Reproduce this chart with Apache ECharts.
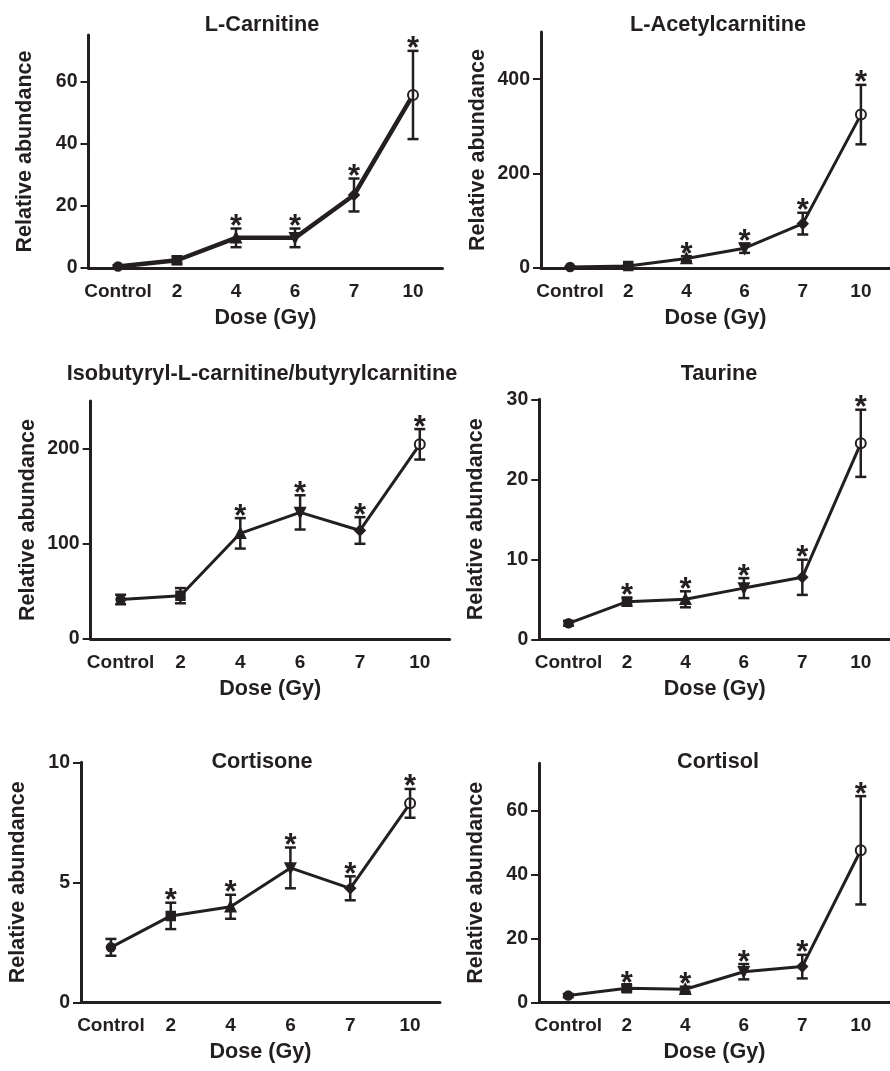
<!DOCTYPE html>
<html><head><meta charset="utf-8">
<script src="https://cdn.jsdelivr.net/npm/echarts@6/dist/echarts.min.js"></script>
<style>html,body{margin:0;padding:0;background:#fff}#c{width:890px;height:1071px}</style>
</head><body><div id="c"></div>
<script>
// ---------- data ----------
const categories = ['Control', '2', '4', '6', '7', '10'];
const xName = 'Dose (Gy)';
const yName = 'Relative abundance';

const titles = ['L-Carnitine', 'L-Acetylcarnitine', 'Isobutyryl-L-carnitine/butyrylcarnitine', 'Taurine', 'Cortisone', 'Cortisol'];

const carnitineMean = [0.5, 2.5, 9.7, 9.7, 23.5, 55.7];
const carnitineErr  = [0.4, 1.2, 3.0, 3.0, 5.3, 14.2];
const carnitineSig  = [0, 0, 1, 1, 1, 1];
const carnitineTicks = [0, 20, 40, 60];
const carnitineMax = 75;

const acetylMean = [2, 4, 20, 42, 94, 325];
const acetylErr  = [1, 2, 5, 10, 23, 63];
const acetylSig  = [0, 0, 1, 1, 1, 1];
const acetylTicks = [0, 200, 400];
const acetylMax = 500;

const isobutyrylMean = [41.5, 45.5, 111, 133, 114, 204.5];
const isobutyrylErr  = [5, 8, 16, 18, 14, 16];
const isobutyrylSig  = [0, 0, 1, 1, 1, 1];
const isobutyrylTicks = [0, 100, 200];
const isobutyrylMax = 250;

const taurineMean = [2.0, 4.7, 5.0, 6.4, 7.75, 24.5];
const taurineErr  = [0.3, 0.5, 1.0, 1.25, 2.2, 4.2];
const taurineSig  = [0, 1, 1, 1, 1, 1];
const taurineTicks = [0, 10, 20, 30];
const taurineMax = 30;

const cortisoneMean = [2.29, 3.6, 3.98, 5.6, 4.75, 8.29];
const cortisoneErr  = [0.35, 0.55, 0.5, 0.85, 0.5, 0.6];
const cortisoneSig  = [0, 1, 1, 1, 1, 1];
const cortisoneTicks = [0, 5, 10];
const cortisoneMax = 10;

const cortisolMean = [2.1, 4.4, 4.1, 9.6, 11.2, 47.7];
const cortisolErr  = [0.5, 1.0, 0.8, 2.4, 3.7, 17];
const cortisolSig  = [0, 1, 1, 1, 1, 1];
const cortisolTicks = [0, 20, 40, 60];
const cortisolMax = 75;

// ---------- layout ----------
const panels = [
  {title: titles[0], mean: carnitineMean, err: carnitineErr, sig: carnitineSig, ticks: carnitineTicks, max: carnitineMax},
  {title: titles[1], mean: acetylMean, err: acetylErr, sig: acetylSig, ticks: acetylTicks, max: acetylMax},
  {title: titles[2], mean: isobutyrylMean, err: isobutyrylErr, sig: isobutyrylSig, ticks: isobutyrylTicks, max: isobutyrylMax},
  {title: titles[3], mean: taurineMean, err: taurineErr, sig: taurineSig, ticks: taurineTicks, max: taurineMax},
  {title: titles[4], mean: cortisoneMean, err: cortisoneErr, sig: cortisoneSig, ticks: cortisoneTicks, max: cortisoneMax},
  {title: titles[5], mean: cortisolMean, err: cortisolErr, sig: cortisolSig, ticks: cortisolTicks, max: cortisolMax}
];
const layout = [
  {left: 88.5, top: 35,    width: 354, height: 233, tx: 262, ty: 14, lw: 4.5},
  {left: 541,  top: 32,    width: 358, height: 236, tx: 718, ty: 14, lw: 3},
  {left: 90.7, top: 401,   width: 359, height: 238, tx: 262, ty: 363, lw: 3},
  {left: 539.3,top: 399.3, width: 360, height: 240, tx: 719, ty: 363, lw: 3},
  {left: 81,   top: 762.3, width: 359, height: 240, tx: 262, ty: 751, lw: 3},
  {left: 539,  top: 763.3, width: 360, height: 239, tx: 718, ty: 751, lw: 3}
];

const INK = '#231f20';
const FONT = '"Liberation Sans", Arial, Helvetica, sans-serif';
const markerSymbols = ['circle', 'rect', 'triangle', 'triangle', 'diamond', 'emptyCircle'];
const markerRotate = [0, 0, 0, 180, 0, 0];
const markerSize = [8, 8, 9, 9, 9, 10];

const option = {
  animation: false,
  backgroundColor: '#fff',
  title: [], grid: [], xAxis: [], yAxis: [], series: []
};

panels.forEach((p, k) => {
  const L = layout[k];
  option.title.push({
    text: p.title, left: L.tx, top: L.ty, textAlign: 'center', padding: 0,
    textStyle: {fontFamily: FONT, fontWeight: 'bold', fontSize: 21.7, color: INK}
  });
  option.grid.push({left: L.left, top: L.top, width: L.width, height: L.height, containLabel: false});
  option.xAxis.push({
    type: 'category', gridIndex: k, data: categories, boundaryGap: true,
    name: xName, nameLocation: 'middle', nameGap: 39,
    nameTextStyle: {fontFamily: FONT, fontWeight: 'bold', fontSize: 21.6, color: INK},
    axisLine: {lineStyle: {color: INK, width: 3}},
    axisTick: {alignWithLabel: true, length: 6, lineStyle: {color: INK, width: 3}},
    axisLabel: {fontFamily: FONT, fontWeight: 'bold', fontSize: 19, color: INK, margin: 14, interval: 0},
    splitLine: {show: false}
  });
  option.yAxis.push({
    type: 'value', gridIndex: k, min: 0, max: p.max,
    name: yName, nameLocation: 'middle', nameGap: 52,
    nameTextStyle: {fontFamily: FONT, fontWeight: 'bold', fontSize: 21.5, color: INK},
    axisLine: {show: true, onZero: false, lineStyle: {color: INK, width: 3}},
    axisTick: {show: true, length: 8, customValues: p.ticks, lineStyle: {color: INK, width: 2}},
    axisLabel: {fontFamily: FONT, fontWeight: 'bold', fontSize: 19.5, color: INK, margin: 11, customValues: p.ticks},
    splitLine: {show: false}
  });
  option.series.push({
    type: 'line', xAxisIndex: k, yAxisIndex: k,
    data: p.mean.map((v, i) => ({
      value: v, symbol: markerSymbols[i], symbolRotate: markerRotate[i], symbolSize: markerSize[i]
    })),
    lineStyle: {color: INK, width: L.lw},
    itemStyle: {color: INK, borderColor: INK, borderWidth: 2.5},
    showAllSymbol: true, z: 3
  });
  option.series.push({
    type: 'custom', xAxisIndex: k, yAxisIndex: k, z: 4,
    data: p.mean.map((v, i) => [i, v - p.err[i], v + p.err[i], p.sig[i]]),
    renderItem: function (params, api) {
      const x = api.value(0);
      const lo = api.coord([x, api.value(1)]);
      const hi = api.coord([x, api.value(2)]);
      const cap = 5.5;
      const st = {stroke: INK, lineWidth: 2.5};
      const ch = [
        {type: 'line', shape: {x1: lo[0], y1: lo[1], x2: hi[0], y2: hi[1]}, style: st},
        {type: 'line', shape: {x1: hi[0] - cap, y1: hi[1], x2: hi[0] + cap, y2: hi[1]}, style: st},
        {type: 'line', shape: {x1: lo[0] - cap, y1: lo[1], x2: lo[0] + cap, y2: lo[1]}, style: st}
      ];
      if (api.value(3)) {
        ch.push({type: 'text', x: hi[0], y: hi[1] - 1,
          style: {text: '*', font: 'bold 31px ' + FONT, fill: INK, align: 'center', verticalAlign: 'middle'}});
      }
      return {type: 'group', children: ch};
    }
  });
});

const chart = echarts.init(document.getElementById('c'), null, {renderer: 'canvas'});
chart.setOption(option);
</script>
</body></html>
